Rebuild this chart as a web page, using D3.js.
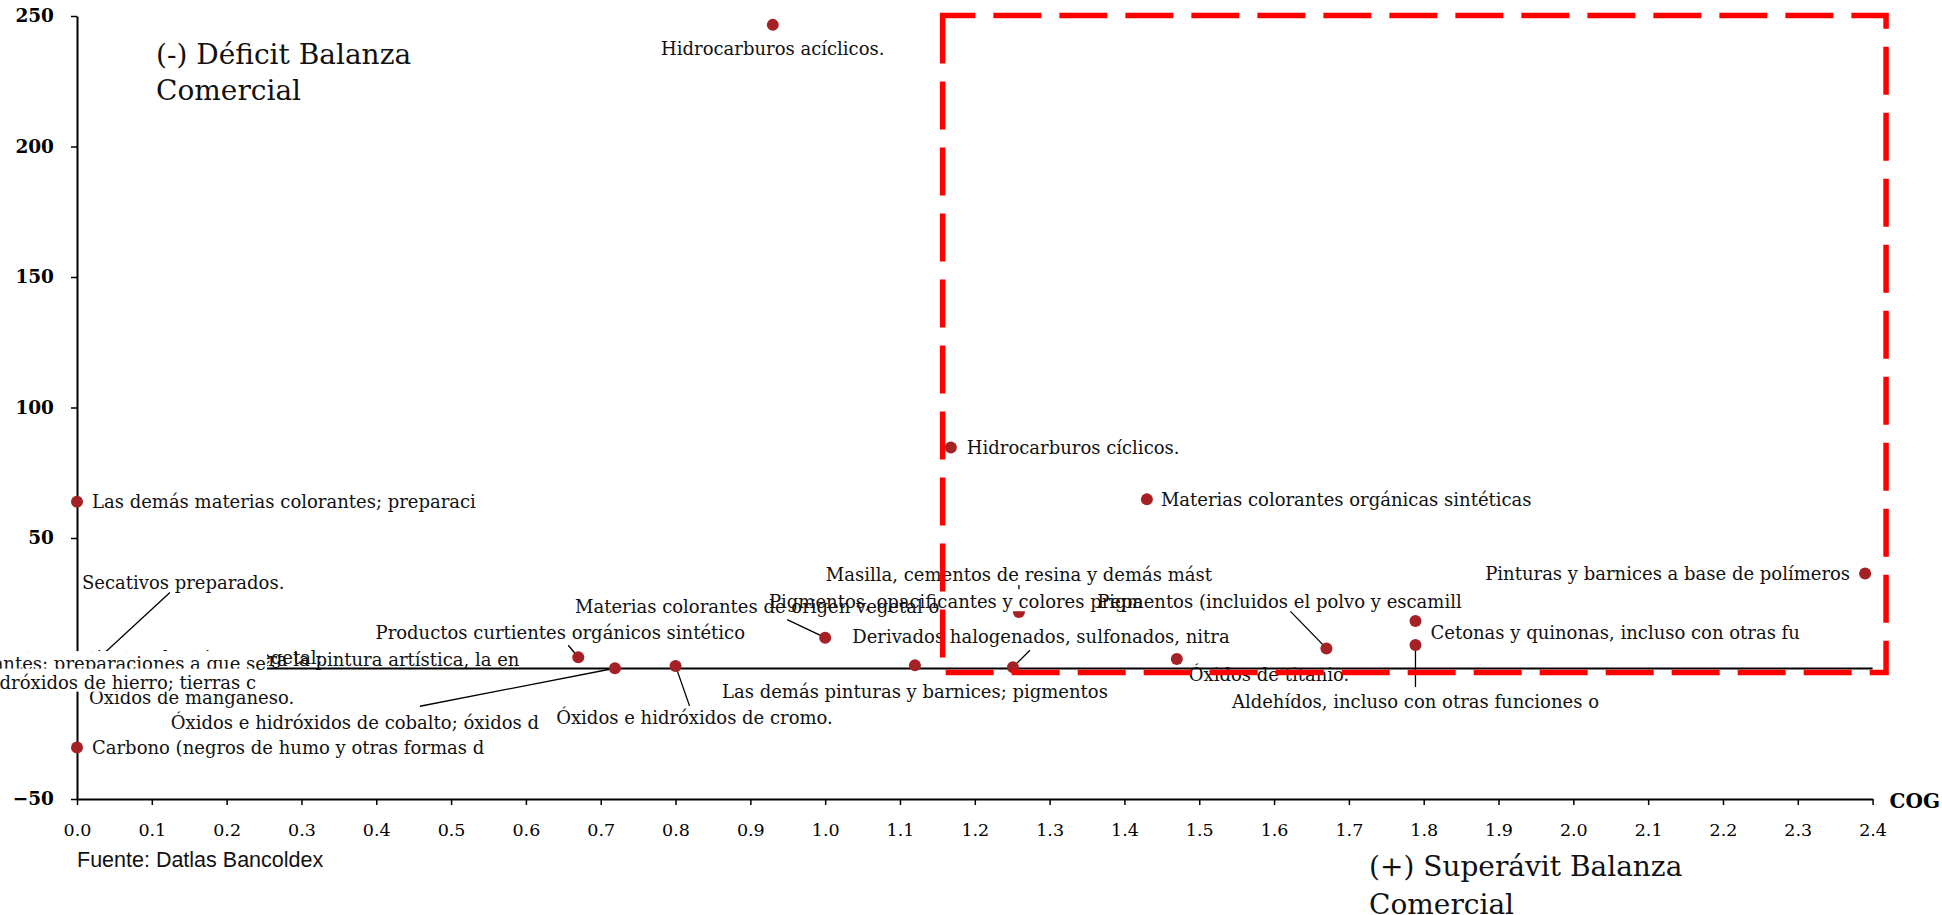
<!DOCTYPE html>
<html><head><meta charset="utf-8">
<script src="https://cdn.jsdelivr.net/npm/d3@7"></script>
<style>body{margin:0;background:#fff;overflow:hidden}</style>
</head><body>
<svg id="c" width="1942" height="915"></svg>
<script>
// ---- data (draw order) ----
const productos = [
  "Las demás materias colorantes; preparaci",
  "Carbono (negros de humo y otras formas d",
  "Secativos preparados.",
  "Extractos curtientes de origen vegetal;",
  "Colores para la pintura artística, la en",
  "Lacas colorantes; preparaciones a que se",
  "Óxidos de manganeso.",
  "Óxidos e hidróxidos de hierro; tierras c",
  "Productos curtientes orgánicos sintético",
  "Óxidos e hidróxidos de cobalto; óxidos d",
  "Óxidos e hidróxidos de cromo.",
  "Hidrocarburos acíclicos.",
  "Las demás pinturas y barnices; pigmentos",
  "Masilla, cementos de resina y demás mást",
  "Pigmentos, opacificantes y colores prepa",
  "Materias colorantes de origen vegetal o",
  "Derivados halogenados, sulfonados, nitra",
  "Hidrocarburos cíclicos.",
  "Materias colorantes orgánicas sintéticas",
  "Óxidos de titanio.",
  "Pigmentos (incluidos el polvo y escamill",
  "Cetonas y quinonas, incluso con otras fu",
  "Aldehídos, incluso con otras funciones o",
  "Pinturas y barnices a base de polímeros"
];
const cog = [0, 0, 0.02, 0.09, 0.0775, 0, 0, 0, 0.670, 0.719, 0.800, 0.930, 1.120, 1.259, 1.175, 1.000, 1.251, 1.168, 1.430, 1.470, 1.670, 1.789, 1.789, 2.390];
const balanza = [63.9, -30.3, 1.5, 3.0, 2.5, 1.8, -4.0, -5.3, 4.3, 0.1, 1.0, 246.6, 1.2, 21.6, 25.5, 11.8, 0.5, 84.7, 64.8, 3.6, 7.7, 18.2, 9.0, 36.4];
const xTicks = [0,0.1,0.2,0.3,0.4,0.5,0.6,0.7,0.8,0.9,1.0,1.1,1.2,1.3,1.4,1.5,1.6,1.7,1.8,1.9,2.0,2.1,2.2,2.3,2.4];
const yTicks = [-50, 0, 50, 100, 150, 200, 250];
const zonaSuperavit = [1.157, 2.418, -1.5, 250.2]; // cog min, cog max, balanza min, balanza max
const textoDeficit = ["(-) Déficit Balanza", "Comercial"];
const textoSuperavit = ["(+) Superávit Balanza", "Comercial"];
const ejeX = "COG";
const fuente = "Fuente: Datlas Bancoldex";

// ---- label layout (pixel offsets from point) ----
const layout = [
  {a:"start", dx:15, dy:0},
  {a:"start", dx:15, dy:0},
  {a:"start", dx:-10, dy:-82, l:[78,-72]},
  {a:"middle", dx:0, dy:-3},
  {a:"middle", dx:210, dy:-2},
  {a:"middle", dx:0, dy:0, box:true},
  {a:"start", dx:12, dy:19},
  {a:"middle", dx:0, dy:0, box:true},
  {a:"middle", dx:-18, dy:-25, l:[-10,-12]},
  {a:"middle", dx:-260, dy:54, l:[-195,38]},
  {a:"middle", dx:19, dy:52, l:[14,40]},
  {a:"middle", dx:0, dy:24},
  {a:"middle", dx:0, dy:26},
  {a:"middle", dx:0, dy:-37, l:[0,-27]},
  {a:"middle", dx:0, dy:0, box:true},
  {a:"middle", dx:-68, dy:-31, l:[-38,-18]},
  {a:"middle", dx:28, dy:-30, l:[17,-17]},
  {a:"start", dx:16, dy:0},
  {a:"start", dx:14, dy:0},
  {a:"start", dx:12, dy:16},
  {a:"middle", dx:-47, dy:-47, l:[-36,-37]},
  {a:"start", dx:15, dy:12},
  {a:"middle", dx:0, dy:57, l:[0,42]},
  {a:"end", dx:-15, dy:0}
];

const svg = d3.select("#c");
const x = d3.scaleLinear().domain([0, 2.4]).range([77, 1872.6]);
const y = d3.scaleLinear().domain([-50, 250]).range([799, 16]);
const serif = "'DejaVu Serif', Georgia, serif";

// y axis
const gy = svg.append("g").attr("transform", `translate(${x(0)},0)`)
  .call(d3.axisLeft(y).tickValues(yTicks).tickFormat(d3.format("d")).tickSize(6).tickSizeOuter(0).tickPadding(17));
gy.select(".domain").attr("stroke", "#000").attr("stroke-width", 2);
gy.selectAll(".tick line").attr("stroke", "#000").attr("stroke-width", 1.5);
gy.selectAll(".tick text").attr("font-family", serif).attr("font-weight", "bold").attr("font-size", 18.5).attr("fill", "#000");

// x axis
const gx = svg.append("g").attr("transform", `translate(0,${y(-50)})`)
  .call(d3.axisBottom(x).tickValues(xTicks).tickFormat(d3.format(".1f")).tickSize(6).tickSizeOuter(0));
gx.select(".domain").attr("stroke", "#000").attr("stroke-width", 2);
gx.selectAll(".tick line").attr("stroke", "#000").attr("stroke-width", 1.5);
gx.selectAll(".tick text").attr("font-family", serif).attr("font-size", 17.5).attr("fill", "#000")
  .attr("y", 31).attr("dy", "0.35em");

svg.append("text").attr("x", x(2.4) + 17).attr("y", y(-50) + 2).attr("dy", "0.35em")
  .attr("font-family", serif).attr("font-weight", "bold").attr("font-size", 20).text(ejeX);

// zero line
svg.append("line").attr("x1", x(0)).attr("x2", x(2.4)).attr("y1", y(0)).attr("y2", y(0))
  .attr("stroke", "#000").attr("stroke-width", 2);

// leaders
productos.forEach((p, i) => {
  const L = layout[i];
  if (!L.l) return;
  const px = x(cog[i]), py = y(balanza[i]);
  svg.append("line").attr("x1", px).attr("y1", py).attr("x2", px + L.l[0]).attr("y2", py + L.l[1])
    .attr("stroke", "#000").attr("stroke-width", 1.3);
});

// points
svg.append("g").selectAll("circle").data(productos).join("circle")
  .attr("cx", (d, i) => x(cog[i])).attr("cy", (d, i) => y(balanza[i])).attr("r", 6)
  .attr("fill", "#A52125");

// labels
productos.forEach((p, i) => {
  const L = layout[i];
  const g = svg.append("g");
  const t = g.append("text").attr("x", x(cog[i]) + L.dx).attr("y", y(balanza[i]) + L.dy)
    .attr("dy", "0.35em").attr("text-anchor", L.a)
    .attr("font-family", serif).attr("font-size", 18).attr("fill", "#111").text(p);
  if (L.box) {
    const b = t.node().getBBox();
    g.insert("rect", "text").attr("x", b.x - 1).attr("y", b.y - 2).attr("width", b.width + 2).attr("height", b.height + 1)
      .attr("fill", "#fff");
  }
});

// quadrant notes
const td = svg.append("text").attr("font-family", serif).attr("font-size", 28).attr("fill", "#111");
textoDeficit.forEach((s, i) => td.append("tspan").attr("x", 156).attr("y", 64 + i * 36).text(s));
const ts = svg.append("text").attr("font-family", serif).attr("font-size", 28).attr("fill", "#111");
textoSuperavit.forEach((s, i) => ts.append("tspan").attr("x", 1369).attr("y", 876 + i * 38).text(s));

svg.append("text").attr("x", x(0)).attr("y", 867).attr("font-family", "'Liberation Sans', Arial, sans-serif")
  .attr("font-size", 21.5).attr("fill", "#111").text(fuente);

// dashed superavit zone
const [c0, c1, b0, b1] = zonaSuperavit;
svg.append("path")
  .attr("d", `M${x(c0)},${y(b1)} V${y(b0)} H${x(c1)} V${y(b1)} Z`)
  .attr("fill", "none").attr("stroke", "#FF0000").attr("stroke-width", 5.5).attr("stroke-dasharray", "48,18");
</script>
</body></html>
